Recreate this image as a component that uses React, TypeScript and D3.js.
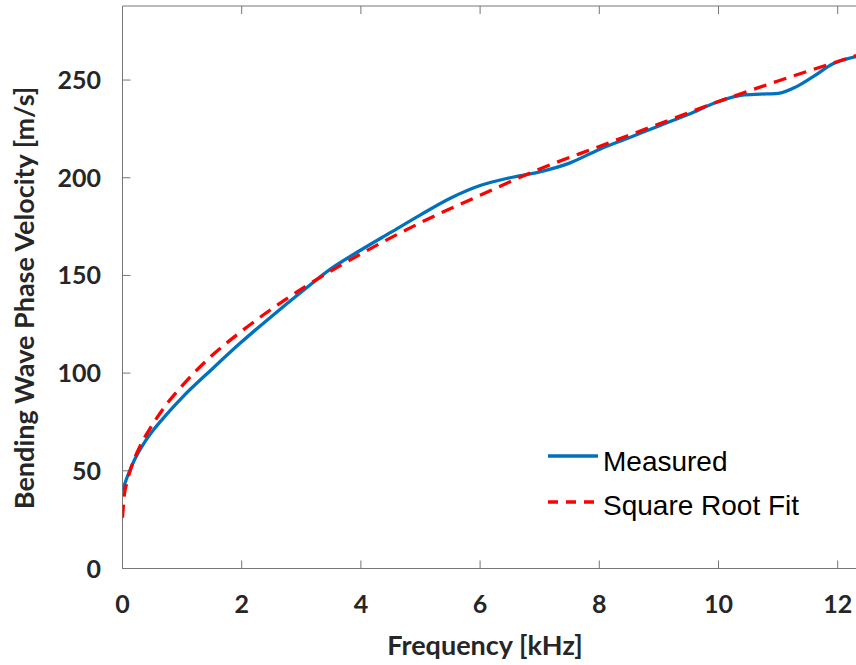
import React from "react";
import * as d3 from "d3";

const measuredFreq = [0, 0.1, 0.2, 0.4, 0.7, 1.0, 1.5, 2.0, 2.5, 3.0, 3.5, 4.0, 4.5, 5.0, 5.5, 6.0, 6.5, 7.0, 7.5, 8.0, 8.5, 9.0, 9.5, 10.0, 10.4, 10.7, 11.0, 11.3, 11.6, 11.92, 12.31];
const measuredVel = [40, 48.5, 55.5, 66, 77.5, 87.5, 102, 116, 129, 141.5, 153.5, 163, 172, 181, 189.5, 196, 200, 203, 207.5, 214.5, 220.5, 226.5, 232.5, 239, 242.3, 242.8, 243.2, 246.5, 252, 258.3, 262];

const fitFreq = [0, 0.03, 0.07, 0.15, 0.3, 0.5, 0.75, 1, 1.5, 2, 3, 4, 5, 6, 7, 8, 9, 10, 11, 12, 12.31];
const fitVel = [26, 37.5, 43.5, 52, 63, 73.5, 84.5, 93.5, 109, 121.5, 143, 161, 177, 191, 204.5, 216, 227.5, 239, 249.5, 259.5, 262.5];

const xTicks = [0, 2, 4, 6, 8, 10, 12];
const yTicks = [0, 50, 100, 150, 200, 250];

const legendLabels = ["Measured", "Square Root Fit"];

export default function App() {
  const W = 856, H = 665;
  const left = 122.5, right = 856, top = 6, bottom = 568.5;
  const x = d3.scaleLinear().domain([0, 12.307]).range([left, right]);
  const y = d3.scaleLinear().domain([0, 287.9]).range([bottom, top]);

  const line = d3
    .line<[number, number]>()
    .x((d) => x(d[0]))
    .y((d) => y(d[1]))
    .curve(d3.curveMonotoneX);

  const measured = measuredFreq.map((f, i) => [f, measuredVel[i]] as [number, number]);
  const fit = fitFreq.map((f, i) => [f, fitVel[i]] as [number, number]);

  const axisColor = "#767676";
  const textColor = "#262626";
  const tickFont = "Lato, 'Open Sans', sans-serif";

  return (
    <svg
      width={W}
      height={H}
      style={{ position: "absolute", left: 0, top: 0, background: "#fff" }}
    >
      <rect x={0} y={0} width={W} height={H} fill="#fff" />
      <defs>
        <clipPath id="plotclip">
          <rect x={left} y={top} width={right - left} height={bottom - top} />
        </clipPath>
      </defs>

      <line x1={left} x2={right} y1={bottom} y2={bottom} stroke={axisColor} strokeWidth={1} />
      <line x1={left} x2={right} y1={top} y2={top} stroke={axisColor} strokeWidth={1} />
      <line x1={left} x2={left} y1={top} y2={bottom} stroke={axisColor} strokeWidth={1} />

      {xTicks.map((t) => (
        <g key={"xt" + t}>
          <line x1={x(t)} x2={x(t)} y1={bottom} y2={bottom - 8} stroke={axisColor} strokeWidth={1} />
          <line x1={x(t)} x2={x(t)} y1={top} y2={top + 8} stroke={axisColor} strokeWidth={1} />
          <text
            x={x(t)}
            y={613}
            textAnchor="middle"
            fontFamily={tickFont}
            fontWeight="bold"
            fontSize={25}
            fill={textColor}
          >
            {t}
          </text>
        </g>
      ))}

      {yTicks.map((t) => (
        <g key={"yt" + t}>
          <line x1={left} x2={left + 8} y1={y(t)} y2={y(t)} stroke={axisColor} strokeWidth={1} />
          <text
            x={101}
            y={y(t) + 9}
            textAnchor="end"
            fontFamily={tickFont}
            fontWeight="bold"
            fontSize={25}
            fill={textColor}
          >
            {t}
          </text>
        </g>
      ))}

      <text
        x={485}
        y={655}
        textAnchor="middle"
        fontFamily={tickFont}
        fontWeight="bold"
        fontSize={27}
        fill={textColor}
      >
        Frequency [kHz]
      </text>
      <text
        transform={`translate(34, 298) rotate(-90)`}
        textAnchor="middle"
        fontFamily={tickFont}
        fontWeight="bold"
        fontSize={27}
        fill={textColor}
      >
        Bending Wave Phase Velocity [m/s]
      </text>

      <g clipPath="url(#plotclip)">
        <path d={line(measured) || ""} fill="none" stroke="#0072BD" strokeWidth={3.3} />
        <path
          d={line(fit) || ""}
          fill="none"
          stroke="#FF0000"
          strokeWidth={3.3}
          strokeDasharray="13 8"
        />
      </g>

      <line x1={548} x2={598} y1={456} y2={456} stroke="#0072BD" strokeWidth={3.3} />
      <line
        x1={548}
        x2={598}
        y1={502}
        y2={502}
        stroke="#FF0000"
        strokeWidth={3.3}
        strokeDasharray="10 8"
      />
      <text
        x={603}
        y={471}
        fontFamily="'Liberation Sans', Arial, sans-serif"
        fontSize={28}
        fill="#000"
      >
        {legendLabels[0]}
      </text>
      <text
        x={603}
        y={515}
        fontFamily="'Liberation Sans', Arial, sans-serif"
        fontSize={28}
        fill="#000"
      >
        {legendLabels[1]}
      </text>
    </svg>
  );
}
